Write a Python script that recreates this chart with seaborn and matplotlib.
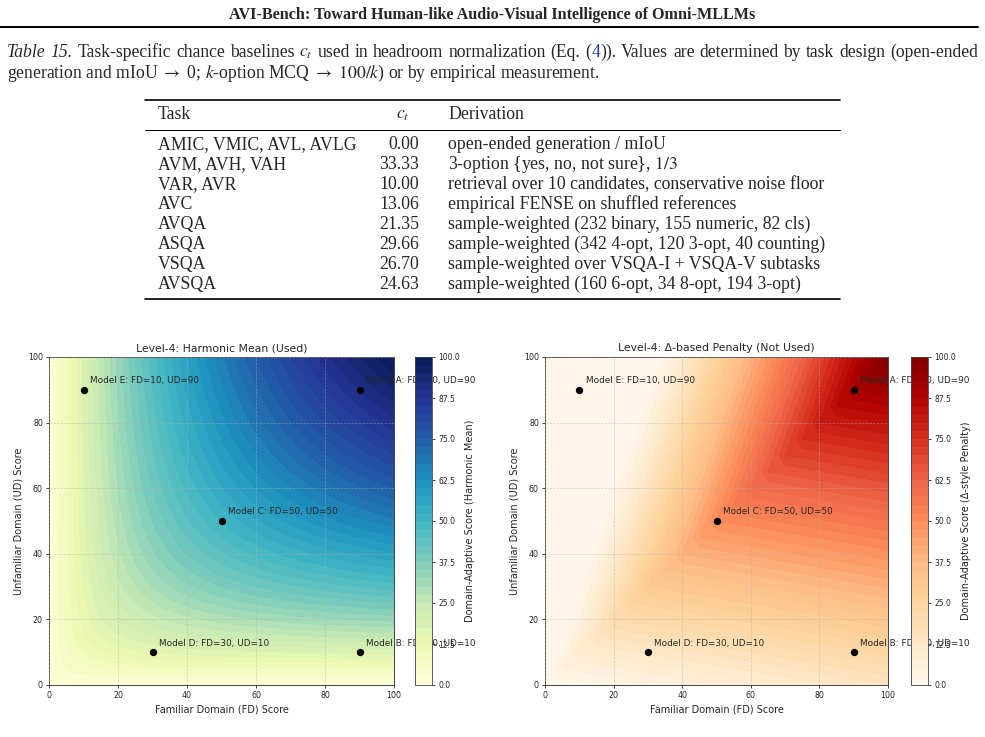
import numpy as np
import matplotlib
matplotlib.use("Agg")
import matplotlib.pyplot as plt
from matplotlib.lines import Line2D
import seaborn as sns

sns.set_style("ticks")
plt.rcParams["font.family"] = ["DejaVu Sans"]
plt.rcParams["mathtext.fontset"] = "stix"

W, H = 985, 737
SERIF = "Liberation Serif"
LINK = "#1f3fa0"

header = "AVI-Bench: Toward Human-like Audio-Visual Intelligence of Omni-MLLMs"

# table 15
tasks = ["AMIC, VMIC, AVL, AVLG", "AVM, AVH, VAH", "VAR, AVR", "AVC",
         "AVQA", "ASQA", "VSQA", "AVSQA"]
chance = ["0.00", "33.33", "10.00", "13.06", "21.35", "29.66", "26.70", "24.63"]
derivation = ["open-ended generation / mIoU",
              r"3-option {yes, no, not sure}, $1/3$",
              "retrieval over 10 candidates, conservative noise floor",
              "empirical FENSE on shuffled references",
              "sample-weighted (232 binary, 155 numeric, 82 cls)",
              "sample-weighted (342 4-opt, 120 3-opt, 40 counting)",
              "sample-weighted over VSQA-I + VSQA-V subtasks",
              "sample-weighted (160 6-opt, 34 8-opt, 194 3-opt)"]

# example models on the FD / UD plane
models = ["A", "B", "C", "D", "E"]
fd_scores = [90, 90, 50, 30, 10]
ud_scores = [90, 10, 50, 10, 90]

grid = np.linspace(0, 100, 101)
FD, UD = np.meshgrid(grid, grid)
with np.errstate(invalid="ignore", divide="ignore"):
    harmonic = np.where(FD + UD > 0, 2 * FD * UD / (FD + UD), 0.0)

# delta-style penalty, sampled on a coarse grid
cgrid = np.linspace(0, 100, 21)
FDc, UDc = np.meshgrid(cgrid, cgrid)
lam = np.where(UDc > FDc, 1.0, 0.35)
penalty = np.clip((FDc + UDc) / 2 - lam * np.abs(FDc - UDc), 0, 100)

levels = np.linspace(0, 100, 41)

fig = plt.figure(figsize=(W / 100, H / 100), dpi=100)
renderer = fig.canvas.get_renderer()


def fx(px):
    return px / W


def fy(py):
    return 1 - py / H


def hline(y, x0, x1, lw):
    fig.add_artist(Line2D([fx(x0), fx(x1)], [fy(y), fy(y)], color="black",
                          lw=lw, transform=fig.transFigure))


def put(x, y, s, size, **kw):
    t = fig.text(fx(x), fy(y), s, fontsize=size, va="baseline", family=SERIF, **kw)
    return t.get_window_extent(renderer=renderer).width


def justified(x0, x1, y, words, size):
    # words: list of lists of (text, kwargs) glued together
    widths = []
    for w in words:
        tot = 0
        for s, kw in w:
            t = fig.text(0, 0, s, fontsize=size, family=SERIF, **kw)
            tot += t.get_window_extent(renderer=renderer).width
            t.remove()
        widths.append(tot)
    gap = (x1 - x0 - sum(widths)) / (len(words) - 1)
    x = x0
    for w, wd in zip(words, widths):
        xx = x
        for s, kw in w:
            xx += put(xx, y, s, size, **kw)
        x += wd + gap


# page header
fig.text(0.5, fy(19), header, ha="center", va="baseline", family=SERIF,
         fontsize=11.6, fontweight="bold")
hline(26.5, 0, 978, 1.4)

# caption
CAP = 12.7
it = {"style": "italic"}
line1 = [[("Table", it)], [("15.", it)]]
line1 += [[(w, {})] for w in "Task-specific chance baselines".split()]
line1 += [[(r"$c_t$", {})]]
line1 += [[(w, {})] for w in "used in headroom normalization (Eq.".split()]
line1 += [[("(", {}), ("4", {"color": LINK}), (")).", {})]]
line1 += [[(w, {})] for w in "Values are determined by task design (open-ended".split()]
justified(7, 978, 57, line1, CAP)
put(7, 78, r"generation and mIoU $\rightarrow$ 0; $k$-option MCQ $\rightarrow$ $100/k$) "
    r"or by empirical measurement.", CAP)

# table
TS = 12.8
hline(100, 145, 840, 1.2)
put(158, 119, "Task", TS)
put(403, 119, r"$c_t$", TS, ha="center")
put(448, 119, "Derivation", TS)
hline(130, 145, 840, 0.7)
for i, (tk, c, d) in enumerate(zip(tasks, chance, derivation)):
    yb = 149 + 20 * i
    put(158, yb, tk, TS)
    put(419, yb, c, TS, ha="right")
    put(448, yb, d, TS)
hline(299, 145, 840, 1.2)

# contour panels
panels = [
    (harmonic, FD, UD, "YlGnBu", "Level-4: Harmonic Mean (Used)",
     "Domain-Adaptive Score (Harmonic Mean)", 49, 394, 415),
    (penalty, FDc, UDc, "OrRd", "Level-4: Δ-based Penalty (Not Used)",
     "Domain-Adaptive Score (Δ-style Penalty)", 545, 888, 911),
]
top, bottom = 357, 685
for Z, X, Y, cmap_name, title, clabel, x0, x1, cx in panels:
    ax = fig.add_axes([fx(x0), fy(bottom), fx(x1 - x0), (bottom - top) / H])
    cax = fig.add_axes([fx(cx), fy(bottom), fx(17), (bottom - top) / H])
    cmap = sns.color_palette(cmap_name, as_cmap=True)
    cs = ax.contourf(X, Y, Z, levels=levels, cmap=cmap)
    sns.scatterplot(x=fd_scores, y=ud_scores, ax=ax, color="black", s=28,
                    linewidth=0, zorder=5)
    for m, f, u in zip(models, fd_scores, ud_scores):
        ax.annotate(f"Model {m}: FD={f}, UD={u}", (f, u), xytext=(4.7, 4.7),
                    textcoords="offset points", fontsize=6.4, zorder=6)
    ax.set_xlim(0, 100)
    ax.set_ylim(0, 100)
    ax.set_xticks(np.arange(0, 101, 20))
    ax.set_yticks(np.arange(0, 101, 20))
    ax.grid(True, linestyle="--", color="#b0b0b0", alpha=0.55, lw=0.5)
    ax.set_axisbelow(False)
    ax.tick_params(labelsize=5.7, length=2.4, width=0.6, pad=2)
    for sp in ax.spines.values():
        sp.set_linewidth(0.7)
        sp.set_color("#444444")
    ax.set_title(title, fontsize=7.8, pad=4)
    ax.set_xlabel("Familiar Domain (FD) Score", fontsize=7.0, labelpad=3)
    ax.set_ylabel("Unfamiliar Domain (UD) Score", fontsize=7.0, labelpad=3)
    cb = fig.colorbar(cs, cax=cax)
    cb.ax.tick_params(labelsize=5.5, length=2.4, width=0.6, pad=2)
    cb.outline.set_linewidth(0.6)
    cb.outline.set_edgecolor("#444444")
    cb.set_label(clabel, fontsize=7.0, labelpad=4)

fig.savefig("out.png", dpi=100)
